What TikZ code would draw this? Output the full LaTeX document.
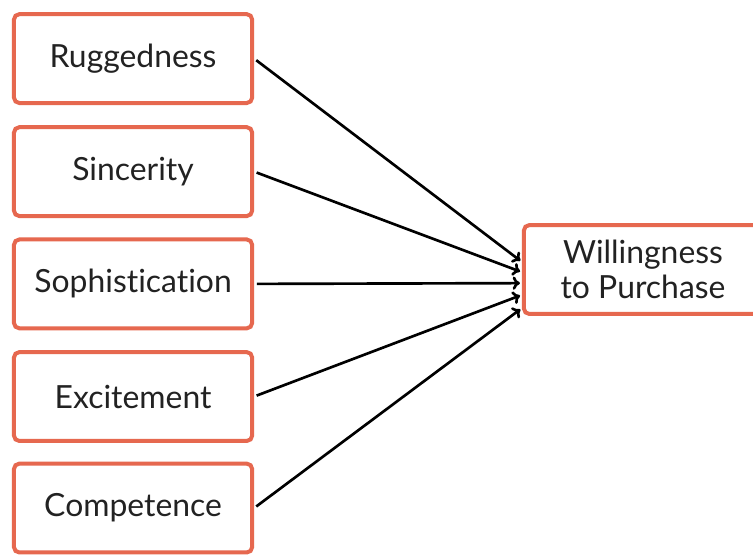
\documentclass[tikz,border=0pt]{standalone}
\usepackage{fontspec}
\setmainfont[Ligatures=NoCommon]{Lato}
\usepackage{xcolor}
\usepackage{tikz}
\usetikzlibrary{arrows.meta}
\definecolor{boxred}{HTML}{E6684F}
\definecolor{txtgray}{HTML}{222222}

\begin{document}
\begin{tikzpicture}[>={To[length=5.5pt,width=10pt]}, box/.style={draw=boxred, line width=3pt, rounded corners=4pt, fill=white, minimum width=6.3cm, minimum height=2.35cm, align=center, text=txtgray, font=\fontsize{24}{26}\selectfont}, arr/.style={->, line width=2pt, shorten <=2pt, shorten >=1.5pt}]
			\clip (0,0) rectangle (19.92,-14.68);
			\fill[white] (0,0) rectangle (19.92,-14.68);
			\node[box] (rug) at (3.52,-1.55) {Ruggedness};
			\node[box] (sin) at (3.52,-4.54) {Sincerity};
			\node[box] (sop) at (3.52,-7.51) {Sophistication};
			\node[box] (exc) at (3.52,-10.49) {Excitement};
			\node[box] (com) at (3.52,-13.44) {Competence};
			\node[box] (will) at (17.01,-7.13) {Willingness\\to Purchase};
			\draw[arr] (rug.east) -- ([yshift=0.2cm]will.west);
			\draw[arr] (sin.east) -- ([yshift=-0.07cm]will.west);
			\draw[arr] (sop.east) -- ([yshift=-0.36cm]will.west);
			\draw[arr] (exc.east) -- ([yshift=-0.67cm]will.west);
			\draw[arr] (com.east) -- ([yshift=-1.02cm]will.west);
		\end{tikzpicture}
\end{document}
